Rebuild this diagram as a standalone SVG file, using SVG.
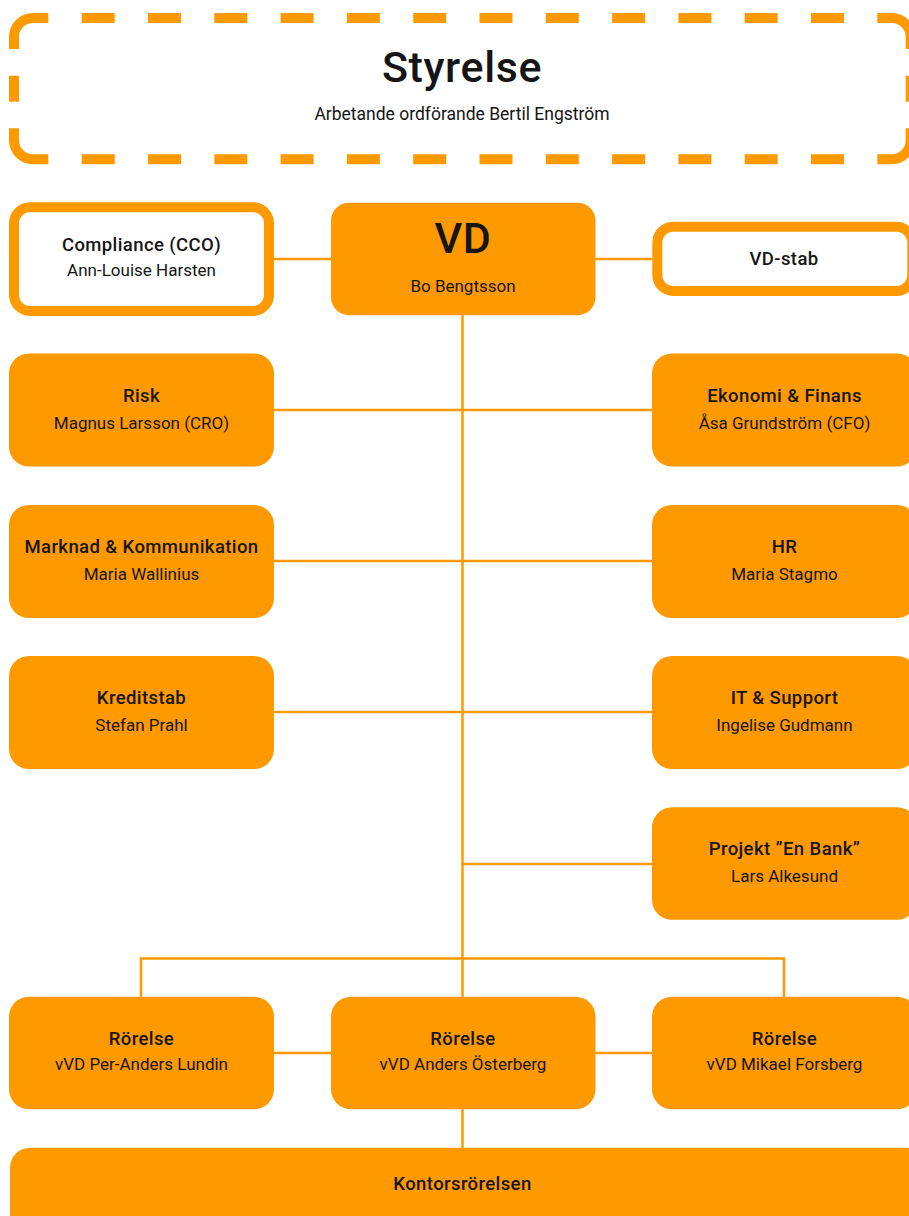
<svg xmlns="http://www.w3.org/2000/svg" width="909" height="1216" viewBox="0 0 909 1216">
<style>
.frame{fill:none;stroke:#ff9900;stroke-width:10}
.dash{fill:none;stroke:#ff9900;stroke-width:10;stroke-dasharray:33 33.3}
.box{fill:#ff9900}
.obox{fill:#ffffff;stroke:#ff9900;stroke-width:10}
.con{fill:none;stroke:#ff9900;stroke-width:2.5}
text{font-family:Roboto,"Liberation Sans",sans-serif;fill:#151515;text-anchor:middle}
.t{font-size:18.5px;font-weight:500;letter-spacing:0.4px}
.s{font-size:17px;font-weight:400}
.big{font-size:43px;font-weight:500;letter-spacing:0.6px}
</style>
<rect width="909" height="1216" fill="#ffffff"/>
<g id="styrelse">
<path class="frame" d="M14,49 V37 A19,19 0 0 1 33,18 H48.3"/>
<path class="frame" d="M14,128.3 V140.3 A19,19 0 0 0 33,159.3 H48.3"/>
<path class="frame" d="M910.7,49 V37 A19,19 0 0 0 891.7,18 H877.3"/>
<path class="frame" d="M910.7,128.3 V140.3 A19,19 0 0 1 891.7,159.3 H877.3"/>
<line class="dash" x1="81.7" y1="18" x2="844.3" y2="18"/>
<line class="dash" x1="81.7" y1="159.3" x2="844.3" y2="159.3"/>
<line class="frame" x1="14" y1="75.7" x2="14" y2="101.7"/>
<line class="frame" x1="910.7" y1="75.7" x2="910.7" y2="101.7"/>
<text class="big" x="462" y="82">Styrelse</text>
<text x="462" y="120" style="font-size:17.5px">Arbetande ordförande Bertil Engström</text>
</g>
<g id="connectors">
<line class="con" x1="269" y1="259" x2="331" y2="259"/>
<line class="con" x1="595" y1="259" x2="657" y2="259"/>
<line class="con" x1="462.5" y1="315" x2="462.5" y2="1148"/>
<line class="con" x1="274" y1="410" x2="652" y2="410"/>
<line class="con" x1="274" y1="561" x2="652" y2="561"/>
<line class="con" x1="274" y1="712" x2="652" y2="712"/>
<line class="con" x1="462.5" y1="864" x2="652" y2="864"/>
<path class="con" d="M141,997 V958.5 H784 V997"/>
<line class="con" x1="274" y1="1053" x2="331" y2="1053"/>
<line class="con" x1="595" y1="1053" x2="652" y2="1053"/>
</g>
<g id="compliance">
<rect class="obox" x="14" y="207.3" width="255" height="103.7" rx="16"/>
<text class="t" x="141.5" y="251">Compliance (CCO)</text>
<text class="s" x="141.5" y="276">Ann-Louise Harsten</text>
</g>
<g id="vd">
<rect class="box" x="331" y="202.7" width="264.5" height="112.5" rx="18"/>
<text class="big" x="463" y="253">VD</text>
<text class="s" x="463" y="291.5">Bo Bengtsson</text>
</g>
<g id="vdstab">
<rect class="obox" x="657.3" y="226.7" width="255" height="64.3" rx="16"/>
<text class="t" x="784" y="265">VD-stab</text>
</g>
<g id="risk">
<rect class="box" x="9" y="353.5" width="265" height="113" rx="20"/>
<text class="t" x="141.5" y="402">Risk</text>
<text class="s" x="141.5" y="429">Magnus Larsson (CRO)</text>
</g>
<g id="ekonomi">
<rect class="box" x="652" y="353.5" width="265" height="113" rx="20"/>
<text class="t" x="784.5" y="402">Ekonomi &amp; Finans</text>
<text class="s" x="784.5" y="429">Åsa Grundström (CFO)</text>
</g>
<g id="marknad">
<rect class="box" x="9" y="505" width="265" height="113" rx="20"/>
<text class="t" x="141.5" y="553">Marknad &amp; Kommunikation</text>
<text class="s" x="141.5" y="580">Maria Wallinius</text>
</g>
<g id="hr">
<rect class="box" x="652" y="505" width="265" height="113" rx="20"/>
<text class="t" x="784.5" y="553">HR</text>
<text class="s" x="784.5" y="580">Maria Stagmo</text>
</g>
<g id="kreditstab">
<rect class="box" x="9" y="656" width="265" height="113" rx="20"/>
<text class="t" x="141.5" y="704">Kreditstab</text>
<text class="s" x="141.5" y="731">Stefan Prahl</text>
</g>
<g id="it">
<rect class="box" x="652" y="656" width="265" height="113" rx="20"/>
<text class="t" x="784.5" y="704">IT &amp; Support</text>
<text class="s" x="784.5" y="731">Ingelise Gudmann</text>
</g>
<g id="projekt">
<rect class="box" x="652" y="807.3" width="265" height="112.5" rx="20"/>
<text class="t" x="784.5" y="855">Projekt ”En Bank”</text>
<text class="s" x="784.5" y="882">Lars Alkesund</text>
</g>
<g id="rorelse1">
<rect class="box" x="9" y="996.7" width="265" height="112.6" rx="20"/>
<text class="t" x="141.5" y="1044.5">Rörelse</text>
<text class="s" x="141.5" y="1070">vVD Per-Anders Lundin</text>
</g>
<g id="rorelse2">
<rect class="box" x="331" y="996.7" width="264.5" height="112.6" rx="20"/>
<text class="t" x="463" y="1044.5">Rörelse</text>
<text class="s" x="463" y="1070">vVD Anders Österberg</text>
</g>
<g id="rorelse3">
<rect class="box" x="652" y="996.7" width="265" height="112.6" rx="20"/>
<text class="t" x="784.5" y="1044.5">Rörelse</text>
<text class="s" x="784.5" y="1070">vVD Mikael Forsberg</text>
</g>
<g id="kontor">
<rect class="box" x="10" y="1147.7" width="915" height="100" rx="20"/>
<text class="t" x="462.5" y="1189.5">Kontorsrörelsen</text>
</g>
</svg>
